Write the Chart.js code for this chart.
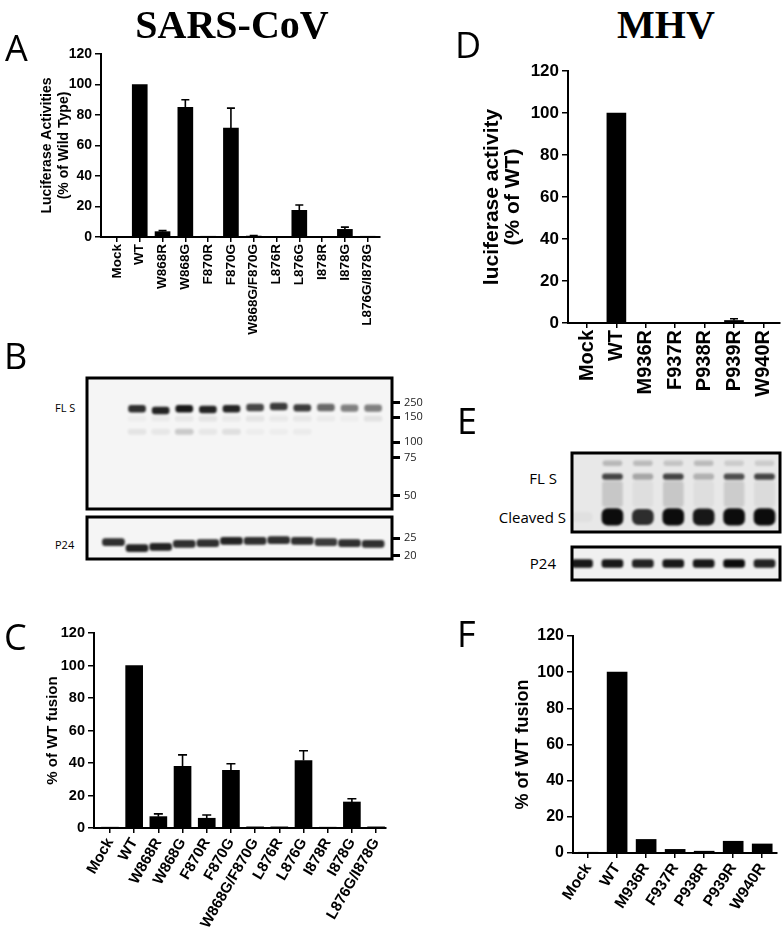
<!DOCTYPE html>
<html>
<head>
<meta charset="utf-8">
<script src="https://cdn.jsdelivr.net/npm/chart.js@4.4.0/dist/chart.umd.min.js"></script>
<style>
  body { margin: 0; background: #fff; }
  #page { position: relative; width: 782px; height: 935px; overflow: hidden; }
  canvas { position: absolute; }
  .letter { position: absolute; font-family: "Open Sans", sans-serif; font-size: 36px; line-height: 36px; color: #000; }
  .title { position: absolute; top: 5px; font-family: "Liberation Serif", serif; font-weight: bold; font-size: 40px; line-height: 40px; transform: translateX(-50%); white-space: nowrap; }
  .lab { position: absolute; font-family: "Open Sans", sans-serif; white-space: nowrap; color: #000; }
</style>
</head>
<body>
<div id="page">
  <canvas id="chartA" width="400" height="300" style="left:0;top:40px"></canvas>
  <canvas id="chartC" width="400" height="335" style="left:0;top:600px"></canvas>
  <canvas id="chartD" width="342" height="360" style="left:440px;top:50px"></canvas>
  <canvas id="chartF" width="342" height="335" style="left:440px;top:600px"></canvas>
  <canvas id="blotB1" width="345" height="135" style="left:85px;top:376px"></canvas>
  <canvas id="blotB2" width="345" height="46" style="left:85px;top:515px"></canvas>
  <canvas id="blotE1" width="212" height="83" style="left:570px;top:451px"></canvas>
  <canvas id="blotE2" width="212" height="37" style="left:570px;top:545px"></canvas>

  <div class="title" style="left:232px">SARS-CoV</div>
  <div class="title" style="left:666px">MHV</div>
  <div class="letter" style="left:5px;top:30px">A</div>
  <div class="letter" style="left:4px;top:338px">B</div>
  <div class="letter" style="left:4px;top:619px">C</div>
  <div class="letter" style="left:455px;top:27px">D</div>
  <div class="letter" style="left:457px;top:403px">E</div>
  <div class="letter" style="left:457px;top:616px">F</div>

  <div class="lab" style="left:55px;top:401px;font-size:11px;line-height:14px">FL S</div>
  <div class="lab" style="left:55px;top:538px;font-size:11px;line-height:14px">P24</div>
  <div class="lab" style="right:225px;top:469px;font-size:15px;line-height:18px">FL S</div>
  <div class="lab" style="right:216px;top:508px;font-size:15px;line-height:18px">Cleaved S</div>
  <div class="lab" style="right:226px;top:554px;font-size:15px;line-height:18px">P24</div>
</div>

<script>
// SARS-CoV mutants (panels A, B, C)
const sarsCategories = ["Mock", "WT", "W868R", "W868G", "F870R", "F870G", "W868G/F870G", "L876R", "L876G", "I878R", "I878G", "L876G/I878G"];
const sarsLuciferase = [0, 100, 3.5, 85, 0.3, 71.5, 0.6, 0, 17.5, 0, 5, 0.2];
const sarsLuciferaseErr = [null, null, 4.2, 90, null, 84.5, 0.9, null, 21, null, 6.5, null];
const sarsFusion = [0.5, 100, 7, 38, 6, 35.5, 0.7, 0.7, 41.5, 0.5, 16, 0.7];
const sarsFusionErr = [null, null, 8.7, 45, 8, 39.5, null, null, 47.5, null, 18, null];

// MHV mutants (panels D, E, F)
const mhvCategories = ["Mock", "WT", "M936R", "F937R", "P938R", "P939R", "W940R"];
const mhvLuciferase = [0, 100, 0, 0, 0, 1.2, 0];
const mhvLuciferaseErr = [null, null, null, null, null, 2, null];
const mhvFusion = [0.3, 100, 7.5, 2, 1, 6.5, 5];

// western blot B: band strength per lane (0-1) and migration (0 = top of strip, 1 = bottom)
const markerLabelsB = ["250", "150", "100", "75", "50"];
const markerMigrationB = [0.19, 0.3, 0.49, 0.61, 0.9];
const markerLabelsP24 = ["25", "20"];
const markerMigrationP24 = [0.5, 0.92];
const flsStrengthB = [0, 0.85, 0.9, 0.95, 0.9, 0.9, 0.75, 0.8, 0.8, 0.6, 0.5, 0.5];
const flsMigrationB = [0.235, 0.235, 0.248, 0.235, 0.24, 0.235, 0.225, 0.218, 0.228, 0.225, 0.23, 0.23];
const faintUpperB = [0, 0.03, 0.04, 0.06, 0.07, 0.05, 0.07, 0.05, 0.06, 0.04, 0.03, 0.08];
const faintLowerB = [0, 0.07, 0.06, 0.18, 0.06, 0.09, 0.03, 0.03, 0.04, 0, 0, 0];
const p24StrengthB = [0.85, 0.9, 0.9, 0.85, 0.85, 0.9, 0.85, 0.85, 0.85, 0.8, 0.85, 0.85];
const p24MigrationB = [0.6, 0.74, 0.71, 0.64, 0.62, 0.57, 0.57, 0.55, 0.57, 0.6, 0.62, 0.64];

// western blot E
const cleavedStrengthE = [0.03, 1, 0.85, 1, 0.95, 1, 1];
const flsStrengthE = [0, 0.75, 0.3, 0.75, 0.25, 0.7, 0.75];
const topBandE = [0, 0.22, 0.2, 0.16, 0.2, 0.13, 0.13];
const smearE = [0, 0.15, 0.04, 0.15, 0.04, 0.12, 0.06];
const p24StrengthE = [0.95, 0.95, 0.9, 0.95, 0.95, 1, 0.9];

const FONT = '"Liberation Sans", Arial, sans-serif';

const errorBarPlugin = {
  id: "errorBars",
  afterDatasetsDraw(chart) {
    const ds = chart.data.datasets[0];
    if (!ds.errTop) return;
    const meta = chart.getDatasetMeta(0);
    const yScale = chart.scales.y;
    const ctx = chart.ctx;
    const half = ds.capWidth / 2;
    ctx.save();
    ctx.strokeStyle = "#000";
    ctx.lineWidth = 1.6;
    ds.errTop.forEach((top, i) => {
      if (top == null) return;
      const bar = meta.data[i];
      const yt = yScale.getPixelForValue(top);
      ctx.beginPath();
      ctx.moveTo(bar.x, bar.y);
      ctx.lineTo(bar.x, yt);
      ctx.moveTo(bar.x - half, yt);
      ctx.lineTo(bar.x + half, yt);
      ctx.stroke();
    });
    ctx.restore();
  },
};

function makeBarChart(id, cfg) {
  new Chart(document.getElementById(id), {
    type: "bar",
    data: {
      datasets: [
        {
          data: cfg.values.map((v, i) => ({ x: i, y: v })),
          backgroundColor: "#000",
          barThickness: cfg.barThickness,
          errTop: cfg.errors,
          capWidth: cfg.capWidth,
        },
      ],
    },
    options: {
      responsive: false,
      animation: false,
      events: [],
      layout: { padding: { top: cfg.padTop, right: cfg.padRight, left: 0, bottom: 0 } },
      plugins: { legend: { display: false }, tooltip: { enabled: false } },
      scales: {
        x: {
          type: "linear",
          min: cfg.xMin,
          max: cfg.xMax,
          offset: false,
          afterBuildTicks: (s) => {
            s.ticks = cfg.categories.map((_, i) => ({ value: i }));
          },
          afterFit: (s) => {
            s.height = cfg.xAxisHeight;
            s.paddingLeft = 0;
            s.paddingRight = 0;
          },
          grid: { drawOnChartArea: false, drawTicks: true, tickLength: 5, color: "#000", lineWidth: 1.5, offset: false },
          border: { color: "#000", width: 2 },
          ticks: {
            autoSkip: false,
            minRotation: cfg.labelRotation,
            maxRotation: cfg.labelRotation,
            padding: 2,
            color: "#000",
            font: { family: FONT, size: cfg.labelSize, weight: "bold" },
            callback: (v) => cfg.categories[v] ?? "",
          },
        },
        y: {
          min: 0,
          max: 120,
          afterFit: (s) => {
            s.width = cfg.yAxisWidth;
            s.paddingTop = 0;
            s.paddingBottom = 0;
          },
          grid: { drawOnChartArea: false, drawTicks: true, tickLength: 6, color: "#000", lineWidth: 1.5 },
          border: { color: "#000", width: 2 },
          ticks: {
            stepSize: 20,
            padding: 3,
            color: "#000",
            font: { family: FONT, size: cfg.tickSize, weight: "bold" },
          },
          title: {
            display: true,
            text: cfg.title,
            color: "#000",
            font: { family: FONT, size: cfg.titleSize, weight: "bold", lineHeight: cfg.titleLineHeight },
            padding: { top: cfg.titlePad, bottom: 0 },
          },
        },
      },
    },
    plugins: [errorBarPlugin],
  });
}

// blot background, blurred bands and the black frame
const blotPlugin = {
  id: "blot",
  beforeDraw(chart, args, opts) {
    const { left, top, width, height } = chart.chartArea;
    chart.ctx.save();
    chart.ctx.fillStyle = opts.background;
    chart.ctx.fillRect(left, top, width, height);
    chart.ctx.restore();
  },
  beforeDatasetsDraw(chart, args, opts) {
    chart.ctx.save();
    chart.ctx.filter = "blur(" + opts.blur + "px)";
  },
  afterDatasetsDraw(chart) {
    chart.ctx.restore();
  },
  afterDraw(chart) {
    const { left, top, width, height } = chart.chartArea;
    const ctx = chart.ctx;
    ctx.save();
    ctx.strokeStyle = "#000";
    ctx.lineWidth = 3;
    ctx.strokeRect(left, top, width, height);
    ctx.restore();
  },
};

function makeBlot(id, cfg) {
  const datasets = cfg.bands.map((b) => ({
    data: b.strength.map((a, i) => {
      const m = Array.isArray(b.migration) ? b.migration[i] : b.migration;
      const h = b.half * (b.thinWhenWeak ? 0.55 + 0.45 * a : 1);
      return { x: i, y: [m - h, m + h] };
    }),
    backgroundColor: b.strength.map((a) => "rgba(12,12,12," + a + ")"),
    barThickness: b.width,
    borderRadius: b.radius || 3,
    borderSkipped: false,
    grouped: false,
  }));
  const hasMarkers = !!cfg.markers;
  new Chart(document.getElementById(id), {
    type: "bar",
    data: { datasets },
    options: {
      responsive: false,
      animation: false,
      events: [],
      layout: { padding: { top: 2, bottom: 2, left: 2, right: hasMarkers ? 0 : 2 } },
      plugins: {
        legend: { display: false },
        tooltip: { enabled: false },
        blot: { background: cfg.background, blur: cfg.blur },
      },
      scales: {
        x: { type: "linear", display: false, min: cfg.xMin, max: cfg.xMax, offset: false },
        y: {
          display: hasMarkers,
          position: "right",
          min: 0,
          max: 1,
          reverse: true,
          afterBuildTicks: (s) => {
            s.ticks = (cfg.markers || []).map((v) => ({ value: v }));
          },
          afterFit: (s) => {
            if (hasMarkers) s.width = 38;
            s.paddingTop = 0;
            s.paddingBottom = 0;
          },
          grid: { drawOnChartArea: false, drawTicks: true, tickLength: 8, color: "#000", lineWidth: 3 },
          border: { display: false },
          ticks: {
            autoSkip: false,
            padding: 4,
            color: "#222",
            font: { family: '"Open Sans", sans-serif', size: 11 },
            callback: (v, i) => (cfg.markerLabels ? cfg.markerLabels[i] : ""),
          },
        },
      },
    },
    plugins: [blotPlugin],
  });
}

makeBarChart("chartA", {
  categories: sarsCategories, values: sarsLuciferase, errors: sarsLuciferaseErr,
  xMin: -0.7, xMax: 11.54, yAxisWidth: 101, xAxisHeight: 103, padTop: 14, padRight: 20,
  barThickness: 15, capWidth: 8, labelRotation: 90, labelSize: 13.5, tickSize: 14,
  title: ["Luciferase Activities", "(% of Wild Type)"], titleSize: 14, titleLineHeight: 1.25, titlePad: 38,
});

makeBarChart("chartC", {
  categories: sarsCategories, values: sarsFusion, errors: sarsFusionErr,
  xMin: -0.66, xMax: 11.41, yAxisWidth: 94, xAxisHeight: 107, padTop: 33, padRight: 14,
  barThickness: 17, capWidth: 9, labelRotation: 60, labelSize: 15, tickSize: 14.5,
  title: "% of WT fusion", titleSize: 15, titleLineHeight: 1.2, titlePad: 44,
});

makeBarChart("chartD", {
  categories: mhvCategories, values: mhvLuciferase, errors: mhvLuciferaseErr,
  xMin: -0.646, xMax: 6.565, yAxisWidth: 128, xAxisHeight: 87, padTop: 21, padRight: 2,
  barThickness: 19, capWidth: 8, labelRotation: 90, labelSize: 20, tickSize: 17,
  title: ["luciferase activity", "(% of WT)"], titleSize: 21, titleLineHeight: 0.98, titlePad: 42,
});

makeBarChart("chartF", {
  categories: mhvCategories, values: mhvFusion, errors: null,
  xMin: -0.52, xMax: 6.51, yAxisWidth: 133, xAxisHeight: 82, padTop: 36, padRight: 5,
  barThickness: 20, capWidth: 8, labelRotation: 57, labelSize: 15.5, tickSize: 16,
  title: "% of WT fusion", titleSize: 18, titleLineHeight: 1.2, titlePad: 72,
});

makeBlot("blotB1", {
  xMin: -1.12, xMax: 11.8, background: "#f5f5f5", blur: 1.1,
  markers: markerMigrationB, markerLabels: markerLabelsB,
  bands: [
    { strength: faintLowerB, migration: 0.41, half: 0.02, width: 18 },
    { strength: faintUpperB, migration: 0.31, half: 0.02, width: 18 },
    { strength: flsStrengthB, migration: flsMigrationB, half: 0.026, width: 17 },
  ],
});

makeBlot("blotB2", {
  xMin: -1.12, xMax: 11.8, background: "#f5f5f5", blur: 1.1,
  markers: markerMigrationP24, markerLabels: markerLabelsP24,
  bands: [{ strength: p24StrengthB, migration: p24MigrationB, half: 0.085, width: 22 }],
});

makeBlot("blotE1", {
  xMin: -0.33, xMax: 6.51, background: "#e8e8e8", blur: 1.3,
  bands: [
    { strength: smearE, migration: 0.52, half: 0.16, width: 20 },
    { strength: topBandE, migration: 0.13, half: 0.03, width: 19 },
    { strength: flsStrengthE, migration: 0.3, half: 0.035, width: 20 },
    { strength: cleavedStrengthE, migration: 0.81, half: 0.105, width: 21, thinWhenWeak: true, radius: 6 },
  ],
});

makeBlot("blotE2", {
  xMin: -0.33, xMax: 6.51, background: "#f0f0f0", blur: 1.1,
  bands: [{ strength: p24StrengthE, migration: 0.5, half: 0.12, width: 21 }],
});
</script>
</body>
</html>
